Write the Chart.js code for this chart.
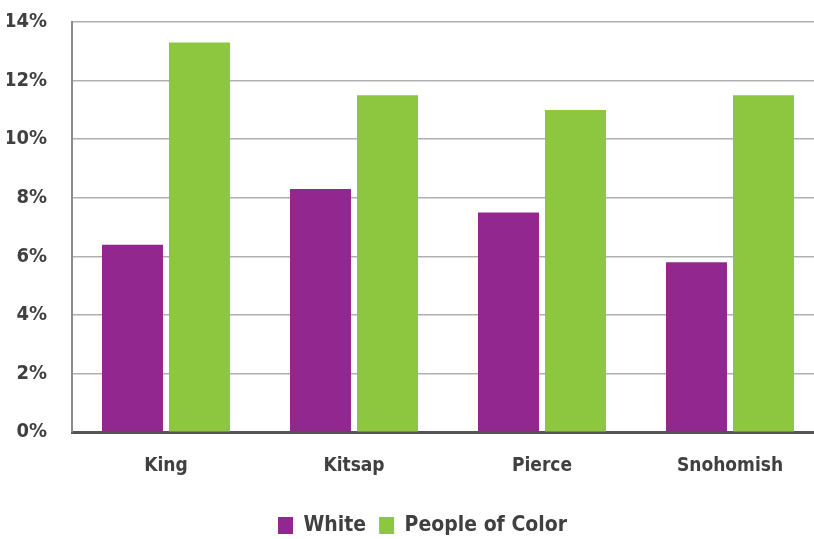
<!DOCTYPE html>
<html>
<head>
<meta charset="utf-8">
<script src="https://cdn.jsdelivr.net/npm/chart.js@4"></script>
<style>
  html, body { margin: 0; padding: 0; background: #fff; overflow: hidden; }
  #wrap { width: 824px; height: 539px; }
</style>
</head>
<body>
<div id="wrap"><canvas id="chart_bar"></canvas></div>
<script>
const canvasChartBar = document.getElementById('chart_bar');

/* DATA */
const COUNTIES = ['King', 'Kitsap', 'Pierce', 'Snohomish'];
var white_data = [6.4, 8.3, 7.5, 5.8];
var poc_data = [13.3, 11.5, 11.0, 11.5];
const Y_TICKS = [0, 2, 4, 6, 8, 10, 12, 14];

const FONT = '"DejaVu Sans Condensed", "Liberation Sans", sans-serif';
const TEXT = '#404040';

/* nudge the legend, like the original */
const shiftLegend = {
    id: 'shiftLegend',
    afterLayout(chart) {
        chart.legend.left += 7;
        chart.legend.right += 7;
        chart.legend.top += 3;
        chart.legend.bottom += 3;
    }
};

var chartBar = new Chart(canvasChartBar, {
    type: 'bar',
    data: {
        labels: COUNTIES,
        datasets: [
            {
                label: 'White',
                data: white_data,
                backgroundColor: '#92278F',
                borderColor: '#92278F'
            },
            {
                label: 'People of Color',
                data: poc_data,
                backgroundColor: '#8DC63F',
                borderColor: '#8DC63F'
            }
        ]
    },
    options: {
        responsive: true,
        maintainAspectRatio: false,
        animation: false,
        categoryPercentage: 0.713,
        barPercentage: 0.91,
        layout: { padding: { top: 22, left: 7, right: 0, bottom: -4 } },
        plugins: {
            legend: {
                position: 'bottom',
                labels: {
                    boxWidth: 15,
                    boxHeight: 17,
                    padding: 13,
                    color: TEXT,
                    font: { family: FONT, size: 21, weight: 'bold' }
                }
            },
            tooltip: { enabled: false }
        },
        scales: {
            x: {
                grid: { display: false, drawTicks: false },
                border: { color: '#555', width: 3 },
                ticks: {
                    padding: 22,
                    color: TEXT,
                    font: { family: FONT, size: 19, weight: 'bold' }
                }
            },
            y: {
                min: 0,
                max: 14,
                afterBuildTicks: (scale) => {
                    scale.ticks = Y_TICKS.map(v => ({ value: v }));
                },
                afterFit: (scale) => {
                    scale.width = 65;
                    scale.paddingTop = 0;
                    scale.paddingBottom = 0;
                },
                grid: { color: '#b0b0b0', lineWidth: 1.5, drawTicks: false },
                border: { color: '#8a8a8a', width: 2 },
                ticks: {
                    padding: 25,
                    color: TEXT,
                    font: { family: FONT, size: 20, weight: 'bold' },
                    callback: (v) => v + '%'
                }
            }
        }
    },
    plugins: [shiftLegend]
});
</script>
</body>
</html>
